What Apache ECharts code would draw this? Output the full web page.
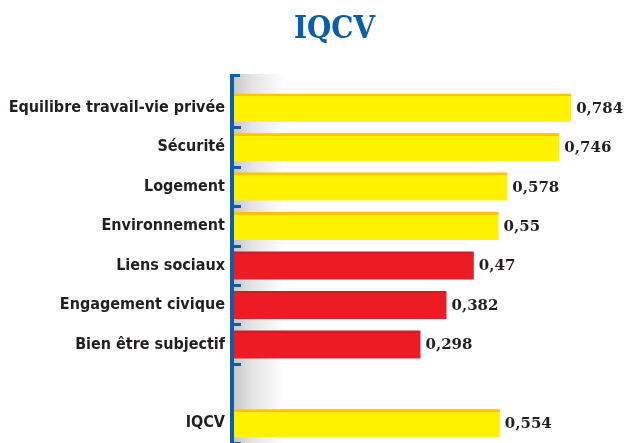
<!DOCTYPE html>
<html>
<head>
<meta charset="utf-8">
<script src="https://cdn.jsdelivr.net/npm/echarts@6/dist/echarts.min.js"></script>
<style>
  html, body { margin: 0; padding: 0; background: #fff; }
  #chart { width: 624px; height: 443px; }
</style>
</head>
<body>
<div id="chart"></div>
<script>
// categories top to bottom, one empty slot before the index
var categories = [
  "Equilibre travail-vie privée",
  "Sécurité",
  "Logement",
  "Environnement",
  "Liens sociaux",
  "Engagement civique",
  "Bien être subjectif",
  "",
  "IQCV"
];
var values = [0.784, 0.746, 0.578, 0.55, 0.47, 0.382, 0.298, null, 0.554];
var barKinds = ["y", "y", "y", "y", "r", "r", "r", null, "y"];

var blue = "#0b5ea9";
var fills = {
  y: { top: "#ffc20e", body: "#fff200" },
  r: { top: "#c5202d", body: "#ed1c24" }
};

var chart = echarts.init(document.getElementById("chart"));

var seriesData = values.map(function (v, i) {
  return v == null ? [null, i] : [v, i];
});

chart.setOption({
  animation: false,
  title: {
    text: "IQCV",
    left: 289,
    top: 9,
    textStyle: {
      color: blue,
      fontFamily: "DejaVu Serif Condensed",
      fontWeight: "bold",
      fontSize: 31
    }
  },
  grid: {
    left: 232,
    right: 4.5,
    top: 88,
    bottom: 0,
    containLabel: false
  },
  graphic: [
    {
      // soft grey shadow along the axis
      type: "rect",
      z: -1,
      shape: { x: 232, y: 74, width: 66, height: 369 },
      style: {
        fill: new echarts.graphic.LinearGradient(0, 0, 1, 0, [
          { offset: 0, color: "#c4c4c4" },
          { offset: 0.3, color: "#e4e4e4" },
          { offset: 0.8, color: "#ffffff" }
        ])
      }
    },
    {
      type: "rect",
      z: 20,
      shape: { x: 230, y: 74, width: 4, height: 16 },
      style: { fill: blue }
    },
    {
      type: "rect",
      z: 20,
      shape: { x: 233, y: 74, width: 7, height: 3 },
      style: { fill: blue }
    }
  ],
  xAxis: {
    type: "value",
    min: -0.31,
    max: 0.94,
    show: false
  },
  yAxis: {
    type: "category",
    inverse: true,
    data: categories,
    z: 10,
    axisLine: {
      show: true,
      onZero: false,
      lineStyle: { color: blue, width: 4 }
    },
    axisTick: {
      show: true,
      inside: true,
      length: 9,
      interval: function (index) {
        return index >= 1 && index <= 7;
      },
      lineStyle: { color: blue, width: 3 }
    },
    axisLabel: {
      margin: 7,
      color: "#231f20",
      fontFamily: "'Liberation Sans Narrow', 'DejaVu Sans Condensed', sans-serif",
      fontWeight: "bold",
      fontSize: 16
    },
    splitLine: { show: false }
  },
  series: [
    {
      type: "custom",
      z: 2,
      data: seriesData,
      encode: { x: 0, y: 1 },
      renderItem: function (params, api) {
        var v = api.value(0);
        var idx = api.value(1);
        if (v == null || isNaN(v)) return null;
        var start = api.coord([-0.31, idx]);
        var end = api.coord([v, idx]);
        var h = 28;
        var kind = fills[barKinds[idx]];
        var label = String(v).replace(".", ",");
        return {
          type: "group",
          children: [
            {
              type: "rect",
              shape: { x: start[0], y: end[1] - h / 2, width: end[0] - start[0], height: h },
              style: {
                fill: new echarts.graphic.LinearGradient(0, 0, 0, 1, [
                  { offset: 0, color: kind.top },
                  { offset: 0.09, color: kind.top },
                  { offset: 0.09, color: kind.body },
                  { offset: 1, color: kind.body }
                ])
              }
            },
            {
              type: "text",
              x: end[0] + 5,
              y: end[1] + 1,
              style: {
                text: label,
                fill: "#231f20",
                font: "bold 15px 'DejaVu Serif'",
                align: "left",
                verticalAlign: "middle"
              }
            }
          ]
        };
      }
    }
  ]
});
</script>
</body>
</html>
